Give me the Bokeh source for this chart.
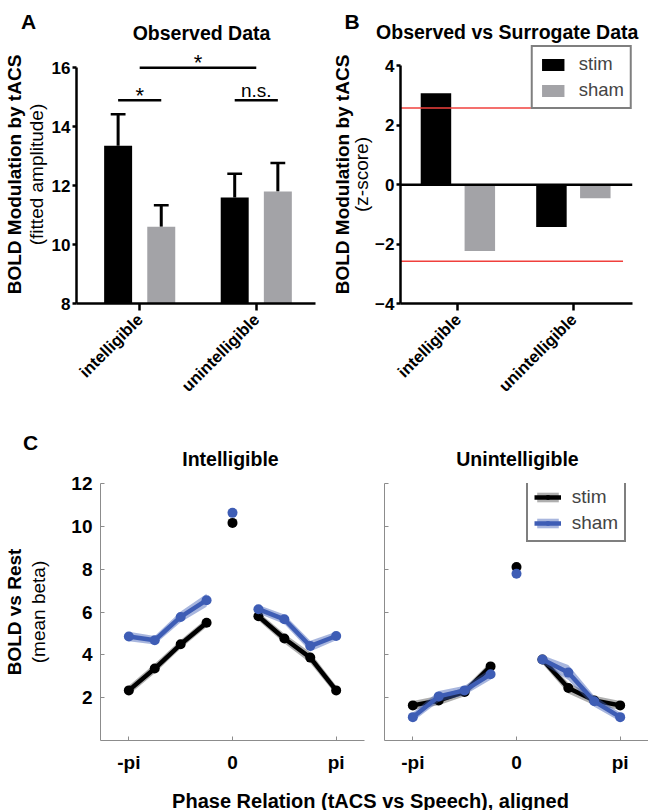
import numpy as np
from bokeh.plotting import figure
from bokeh.layouts import column, row
from bokeh.models import (Range1d, FixedTicker, Legend, LegendItem, Span,
                          ColumnDataSource, LinearAxis)
from bokeh.core.properties import value
from bokeh.embed import file_html
from bokeh.resources import INLINE

FONT = "Liberation Sans"

# ---------------- data ----------------
conditions = ["intelligible", "unintelligible"]
obs_stim = [13.35, 11.6]
obs_stim_err = [1.07, 0.8]
obs_sham = [10.6, 11.8]
obs_sham_err = [0.73, 0.97]
obs_axis_min = 8
obs_ticks = [8, 10, 12, 14, 16]
sig_labels = ["*", "*", "n.s."]
sig_levels = [16.0, 14.9, 14.9]

z_stim = [3.08, -1.42]
z_sham = [-2.23, -0.46]
z_threshold = 2.58
z_ticks = [-4, -2, 0, 2, 4]

phase_bins = [-4, -3, -2, -1, 0, 1, 2, 3, 4]          # in units of pi/4
phase_tick_values = [-np.pi, 0.0, np.pi]
phase_tick_labels = ["-pi", "0", "pi"]
beta_ticks = [2, 4, 6, 8, 10, 12]

intel_stim = [2.34, 3.36, 4.49, 5.50, 10.16, 5.80, 4.76, 3.87, 2.34]
intel_stim_sem = [0.22, 0.22, 0.20, 0.20, 0.20, 0.20, 0.22, 0.25, 0.22]
intel_sham = [4.86, 4.68, 5.77, 6.55, 10.63, 6.13, 5.66, 4.41, 4.88]
intel_sham_sem = [0.22, 0.20, 0.25, 0.30, 0.20, 0.20, 0.22, 0.25, 0.20]
unintel_stim = [1.64, 1.87, 2.27, 3.46, 8.10, 3.78, 2.45, 1.87, 1.64]
unintel_stim_sem = [0.20, 0.22, 0.20, 0.22, 0.20, 0.20, 0.25, 0.22, 0.20]
unintel_sham = [1.09, 2.06, 2.34, 3.09, 7.79, 3.78, 3.17, 1.83, 1.09]
unintel_sham_sem = [0.20, 0.25, 0.22, 0.25, 0.20, 0.20, 0.35, 0.25, 0.20]

# ---------------- styles ----------------
BLACK = "#000000"
GRAY = "#A3A3A7"
RED = "#F0403C"
BLUE = "#3E5DB5"
AXGRAY = "#8C8C8C"


def base_fig(width, height, xr, yr, left, right, top, bottom):
    p = figure(width=width, height=height, x_range=xr, y_range=yr,
               output_backend="svg", toolbar_location=None,
               min_border_left=left, min_border_right=right,
               min_border_top=top, min_border_bottom=bottom)
    p.outline_line_color = None
    p.xgrid.visible = False
    p.ygrid.visible = False
    p.background_fill_color = "white"
    p.border_fill_color = "white"
    return p


def text_strip(width, height, items):
    """A blank strip holding heading texts; data units are pixels.
    items: list of (x_from_left, baseline_from_top, text, size_px, bold)."""
    s = figure(width=width, height=height, x_range=Range1d(0, width), y_range=Range1d(0, height),
               output_backend="svg", toolbar_location=None, x_axis_type=None, y_axis_type=None,
               min_border_left=0, min_border_right=0, min_border_top=0, min_border_bottom=0)
    s.outline_line_color = None
    s.xgrid.visible = False
    s.ygrid.visible = False
    src = ColumnDataSource(dict(x=[it[0] for it in items], y=[height - it[1] for it in items],
                                t=[it[2] for it in items],
                                fs=[f"{it[3]}px" for it in items],
                                st=["bold" if it[4] else "normal" for it in items]))
    s.text(x="x", y="y", text="t", text_font_size="fs", text_font_style="st", source=src,
           text_align="center", text_baseline="alphabetic", text_color="black",
           text_font=value(FONT))
    return s


def two_line_ylabel(p, bold_text, normal_text, inner_standoff, outer_standoff):
    """Normal-weight line on the plot's own y axis, bold line on an outer, tick-less axis."""
    ax = p.yaxis[0]
    ax.axis_label = normal_text
    ax.axis_label_text_font = FONT
    ax.axis_label_text_font_style = "normal"
    ax.axis_label_text_font_size = "19px"
    ax.axis_label_text_color = "black"
    ax.axis_label_standoff = inner_standoff
    outer = LinearAxis(ticker=FixedTicker(ticks=[]),
                       axis_line_color=None, major_tick_line_color=None,
                       minor_tick_line_color=None, major_tick_out=0, major_tick_in=0,
                       major_label_standoff=0,
                       axis_label=bold_text, axis_label_text_font=FONT,
                       axis_label_text_font_style="bold", axis_label_text_font_size="19px",
                       axis_label_text_color="black", axis_label_standoff=outer_standoff)
    p.add_layout(outer, "left")


def prism_axes(p, yticks, ybounds, xticks_labels):
    for ax in (p.xaxis[0], p.yaxis[0]):
        ax.axis_line_width = 2.5
        ax.axis_line_color = "black"
        ax.major_tick_line_width = 2.5
        ax.major_tick_line_color = "black"
        ax.major_tick_in = 0
        ax.minor_tick_line_color = None
        ax.major_label_text_font = FONT
        ax.major_label_text_font_style = "bold"
        ax.major_label_text_color = "black"
    p.yaxis[0].ticker = FixedTicker(ticks=yticks)
    p.yaxis[0].bounds = ybounds
    p.yaxis[0].major_tick_out = 4
    p.yaxis[0].major_label_standoff = 2
    p.yaxis[0].major_label_text_font_size = "17px"
    p.xaxis[0].ticker = FixedTicker(ticks=list(range(len(xticks_labels))))
    p.xaxis[0].major_label_overrides = {i: lab for i, lab in enumerate(xticks_labels)}
    p.xaxis[0].major_label_orientation = np.pi / 4
    p.xaxis[0].major_tick_out = 7
    p.xaxis[0].major_label_standoff = 6
    p.xaxis[0].major_label_text_font_size = "16.5px"


xi = np.arange(len(conditions), dtype=float)

# ---------------- row 1 headings ----------------
t1 = text_strip(648, 44, [(28, 21, "A", 21, True),
                          (201, 32, "Observed Data", 19.5, True),
                          (351.7, 21, "B", 21, True),
                          (506.7, 31.5, "Observed vs Surrogate Data", 19.5, True)])

# ---------------- panel A ----------------
offA, widA, capA = 0.185, 0.24, 0.127
A_frame_h, A_px = 260, 29.7
A_top = obs_axis_min + A_frame_h / A_px
pA = base_fig(328, 376, Range1d(-0.542, 1.508), Range1d(obs_axis_min, A_top), 74, 13, 0, 116)
prism_axes(pA, obs_ticks, (obs_ticks[0], obs_ticks[-1]), conditions)
two_line_ylabel(pA, "BOLD Modulation by tACS", "(fitted amplitude)", 2, -2)

for xs, vals, errs, col in ((xi - offA, obs_stim, obs_stim_err, BLACK),
                           (xi + offA, obs_sham, obs_sham_err, GRAY)):
    vals = np.array(vals)
    tops = vals + np.array(errs)
    pA.segment(x0=xs, y0=vals, x1=xs, y1=tops, line_color="black", line_width=3)
    pA.segment(x0=xs - capA / 2, y0=tops, x1=xs + capA / 2, y1=tops, line_color="black", line_width=2.5)
    pA.vbar(x=xs, top=vals, bottom=obs_axis_min, width=widA, fill_color=col, line_color=None)

# significance brackets: between conditions, then stim vs sham within each condition
sig_x0 = [xi[0], xi[0] - offA, xi[1] - offA]
sig_x1 = [xi[1], xi[0] + offA, xi[1] + offA]
pA.segment(x0=sig_x0, y0=sig_levels, x1=sig_x1, y1=sig_levels, line_color="black", line_width=2.5)
sig_src = ColumnDataSource(dict(
    x=[(a + b) / 2 for a, b in zip(sig_x0, sig_x1)],
    y=[lv + (5.0 if s == "*" else 10.0) / A_px for lv, s in zip(sig_levels, sig_labels)],
    t=sig_labels,
    fs=["22px" if s == "*" else "19px" for s in sig_labels]))
pA.text(x="x", y="y", text="t", text_font_size="fs", source=sig_src,
        text_align="center", text_baseline="alphabetic", text_color="black",
        text_font=value(FONT))

# ---------------- panel B ----------------
offB, widB = 0.19, 0.264
B_xstart = -0.497
pB = base_fig(320, 376, Range1d(B_xstart, 1.512), Range1d(z_ticks[0], 4.687), 68, 16, 1, 117)
prism_axes(pB, z_ticks, (z_ticks[0], z_ticks[-1]), conditions)
two_line_ylabel(pB, "BOLD Modulation by tACS", "(z-score)", 0, -4)
rb_stim = pB.vbar(x=xi - offB, top=z_stim, bottom=0, width=widB, fill_color=BLACK, line_color=None)
rb_sham = pB.vbar(x=xi + offB, top=z_sham, bottom=0, width=widB, fill_color=GRAY, line_color=None)
pB.add_layout(Span(location=0, dimension="width", line_color="black", line_width=2.5))
thr_x1 = 1.43
pB.segment(x0=[B_xstart, B_xstart], y0=[z_threshold, -z_threshold], x1=[thr_x1, thr_x1],
           y1=[z_threshold, -z_threshold], line_color=RED, line_width=1.5)
legB = Legend(items=[LegendItem(label="stim", renderers=[rb_stim]),
                     LegendItem(label="sham", renderers=[rb_sham])],
              location="top_right", margin=0, padding=6, spacing=4,
              glyph_width=28, glyph_height=15, label_height=20, label_standoff=12,
              label_text_font=FONT, label_text_font_size="18.5px",
              border_line_color="black", border_line_width=2,
              background_fill_alpha=1.0)
pB.add_layout(legB)

# ---------------- row 2 headings ----------------
t2 = text_strip(648, 50, [(30, 22, "C", 21, True),
                          (230, 38, "Intelligible", 19.5, True),
                          (517, 38, "Unintelligible", 19.5, True)])

# ---------------- panel C ----------------
phase_x = np.array(phase_bins) * np.pi / 4
left_idx = [i for i, b in enumerate(phase_bins) if b < 0]
right_idx = [i for i, b in enumerate(phase_bins) if b > 0]


def matlab_axes(p, show_ylabels):
    for ax in (p.xaxis[0], p.yaxis[0]):
        ax.axis_line_color = AXGRAY
        ax.axis_line_width = 1
        ax.major_tick_line_color = AXGRAY
        ax.major_tick_line_width = 1
        ax.major_tick_in = 4
        ax.major_tick_out = 0
        ax.minor_tick_line_color = None
        ax.major_label_text_font = FONT
        ax.major_label_text_font_style = "bold"
        ax.major_label_text_font_size = "19px"
        ax.major_label_text_color = "black"
    p.xaxis[0].ticker = FixedTicker(ticks=phase_tick_values)
    p.xaxis[0].major_label_overrides = {float(v): lab for v, lab in zip(phase_tick_values, phase_tick_labels)}
    p.xaxis[0].major_label_standoff = 11
    p.yaxis[0].ticker = FixedTicker(ticks=beta_ticks)
    p.yaxis[0].major_label_standoff = 8
    if not show_ylabels:
        p.yaxis[0].major_label_text_color = None
        p.yaxis[0].major_label_standoff = 0


def draw_series(p, y, sem, color, band_color, band_alpha):
    y = np.array(y)
    sem = np.array(sem)
    rends = []
    for idx in (left_idx, right_idx):
        rends.append(p.varea(x=phase_x[idx], y1=(y - sem)[idx], y2=(y + sem)[idx],
                             fill_color=band_color, fill_alpha=band_alpha))
    for idx in (left_idx, right_idx):
        rends.append(p.line(x=phase_x[idx], y=y[idx], line_color=color, line_width=4.5))
    rends.append(p.scatter(x=phase_x, y=y, size=10, fill_color=color, line_color=None))
    return rends


pC1 = base_fig(374, 305, Range1d(-4, 4), Range1d(0, 12), 98, 10, 13, 35)
matlab_axes(pC1, True)
two_line_ylabel(pC1, "BOLD vs Rest", "(mean beta)", 19, 1)
draw_series(pC1, intel_stim, intel_stim_sem, BLACK, "#7A7A7A", 0.6)
draw_series(pC1, intel_sham, intel_sham_sem, BLUE, BLUE, 0.45)

pC2 = base_fig(274, 305, Range1d(-4, 4), Range1d(0, 12), 10, 0, 13, 35)
matlab_axes(pC2, False)
r_stim = draw_series(pC2, unintel_stim, unintel_stim_sem, BLACK, "#7A7A7A", 0.6)
r_sham = draw_series(pC2, unintel_sham, unintel_sham_sem, BLUE, BLUE, 0.45)
legC = Legend(items=[LegendItem(label="stim", renderers=[r_stim[0], r_stim[2], r_stim[4]]),
                     LegendItem(label="sham", renderers=[r_sham[0], r_sham[2], r_sham[4]])],
              location=(141.7, 198.3), margin=0, padding=6, spacing=4,
              glyph_width=27, glyph_height=12, label_height=20, label_standoff=11,
              label_text_font=FONT, label_text_font_size="19px",
              border_line_color="black", border_line_width=2,
              background_fill_alpha=1.0)
pC2.add_layout(legC)

# ---------------- shared x label for panel C ----------------
pL = text_strip(648, 35, [(370, 25, "Phase Relation (tACS vs Speech), aligned", 20, True)])

layout = column(t1, row(pA, pB), t2, row(pC1, pC2), pL)

open("out.html", "w").write(file_html(layout, INLINE))
